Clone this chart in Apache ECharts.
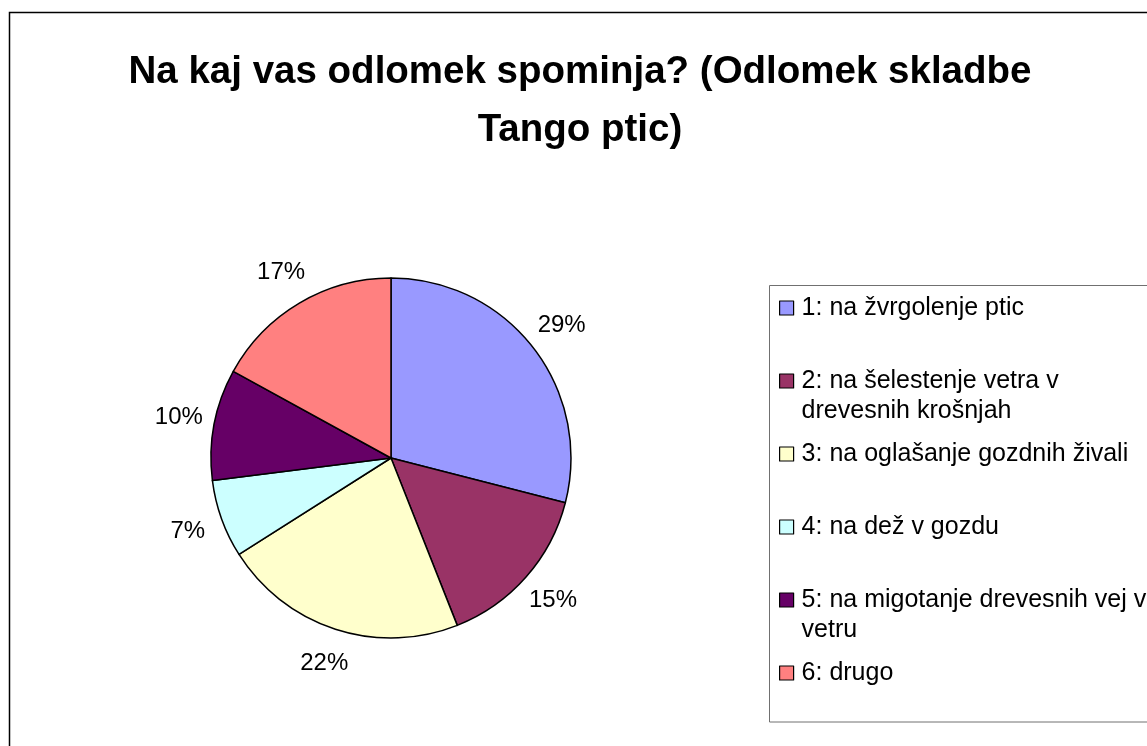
<!DOCTYPE html>
<html>
<head>
<meta charset="utf-8">
<style>
  html, body { margin: 0; padding: 0; background: #fff; }
  #chart { width: 1147px; height: 746px; }
</style>
<script src="https://cdn.jsdelivr.net/npm/echarts@6/dist/echarts.min.js"></script>
</head>
<body>
<div id="chart"></div>
<script>
// ---- data ----
const titleText = 'Na kaj vas odlomek spominja? (Odlomek skladbe\nTango ptic)';
const categories = [
  '1: na žvrgolenje ptic',
  '2: na šelestenje vetra v drevesnih krošnjah',
  '3: na oglašanje gozdnih živali',
  '4: na dež v gozdu',
  '5: na migotanje drevesnih vej v vetru',
  '6: drugo'
];
const legendLabels = [
  '1: na žvrgolenje ptic',
  '2: na šelestenje vetra v\ndrevesnih krošnjah',
  '3: na oglašanje gozdnih živali',
  '4: na dež v gozdu',
  '5: na migotanje drevesnih vej v\nvetru',
  '6: drugo'
];
const values = [29, 15, 22, 7, 10, 17];
const colors = ['#9999FF', '#993366', '#FFFFCC', '#CCFFFF', '#660066', '#FF8080'];

// ---- layout / style ----
const FONT = "'Liberation Sans', Arial, sans-serif";
const CX = 391, CY = 458, R = 180, LABEL_R = 216;
const LINE_H = 30;

const total = values.reduce((a, b) => a + b, 0);

const chart = echarts.init(document.getElementById('chart'), null, { renderer: 'canvas' });

// every legend entry is a 3-line block whose middle line is the first text line,
// so the colour box lines up with the first line of text
function legendBlock(name) {
  const lbl = legendLabels[categories.indexOf(name)];
  const n = lbl.split('\n').length;
  return ' \n' + lbl + (n === 1 ? '\n ' : '');
}

const option = {
  backgroundColor: '#ffffff',
  animation: false,
  color: colors,
  title: {
    text: titleText,
    left: 580,
    top: 43,
    textAlign: 'center',
    padding: 0,
    textStyle: {
      fontFamily: FONT,
      fontSize: 38.5,
      fontWeight: 'bold',
      color: '#000',
      lineHeight: 58
    }
  },
  graphic: [
    {
      type: 'rect', z: -10, silent: true,
      shape: { x: 9.5, y: 12.5, width: 1300, height: 900 },
      style: { fill: 'none', stroke: '#000', lineWidth: 1.5 }
    },
    {
      type: 'rect', z: -5, silent: true,
      shape: { x: 769.5, y: 285.5, width: 600, height: 436.5 },
      style: { fill: 'none', stroke: '#707070', lineWidth: 1 }
    }
  ],
  legend: {
    orient: 'vertical',
    left: 779,
    top: 308 - (LINE_H * 3) / 2,
    padding: 0,
    itemGap: 73 - LINE_H * 3,
    itemWidth: 14,
    itemHeight: 14,
    icon: 'rect',
    selectedMode: false,
    itemStyle: { borderColor: '#000', borderWidth: 1.2 },
    textStyle: {
      fontFamily: FONT,
      fontSize: 25,
      color: '#000',
      lineHeight: LINE_H,
      padding: [0, 0, 0, 3],
      backgroundColor: 'rgba(0,0,0,0)'
    },
    formatter: legendBlock,
    data: categories
  },
  series: [
    {
      type: 'pie',
      center: [CX, CY],
      radius: R,
      startAngle: 90,
      clockwise: true,
      avoidLabelOverlap: false,
      itemStyle: { borderColor: '#000', borderWidth: 1.5 },
      emphasis: { disabled: true },
      label: {
        show: true,
        position: 'outside',
        formatter: '{c}%',
        fontFamily: FONT,
        fontSize: 24,
        color: '#000'
      },
      labelLine: { show: false },
      labelLayout: function (params) {
        const i = params.dataIndex;
        let cum = 0;
        for (let k = 0; k < i; k++) cum += values[k];
        cum += values[i] / 2;
        const th = cum / total * Math.PI * 2;
        return {
          x: CX + LABEL_R * Math.sin(th),
          y: CY - LABEL_R * Math.cos(th),
          align: 'center',
          verticalAlign: 'middle'
        };
      },
      data: categories.map((name, i) => ({ name: name, value: values[i] }))
    }
  ]
};

chart.setOption(option);
</script>
</body>
</html>
